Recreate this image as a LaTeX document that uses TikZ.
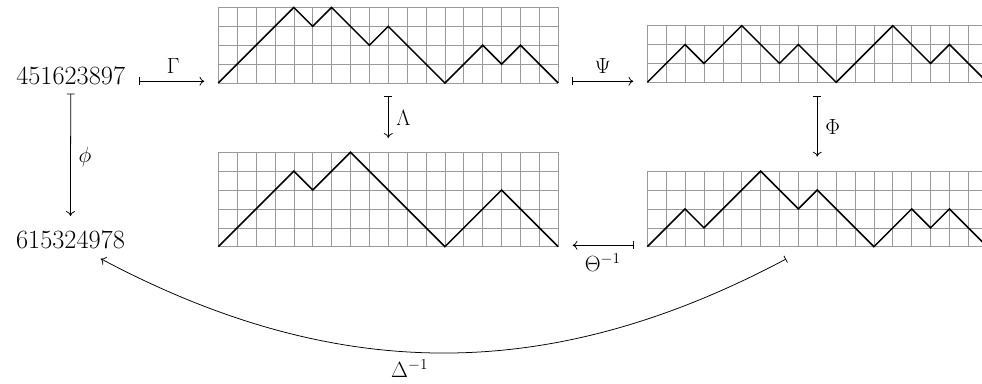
\documentclass[tikz,border=0pt]{standalone}
\usepackage{amsmath, amssymb}
\usepackage{xcolor}
\usepackage{tikz}
\usetikzlibrary{arrows.meta, calc}
\definecolor{gridgray}{HTML}{9A9A9A}
\newcommand{\cellsz}{14.87pt}
\tikzset{
  gridline/.style={
    draw=gridgray,
    line width=0.5pt
  },
  dyck/.style={
    draw=black,
    line width=1.2pt
  },
  gridbox/.style={
    inner sep=0pt, outer sep=0pt,
    minimum width={18*\cellsz}
  },
  num/.style={
    font=\huge,
    inner sep=2pt
  },
  maps/.style={
    {Bar[width=6pt]}-{Computer Modern Rightarrow[length=3.8pt, width=7pt]},
    line width=0.6pt
  },
  lbl/.style={
    font=\LARGE,
    inner sep=3pt
  }
}

\begin{document}
\begin{tikzpicture}[x=0.7874pt, y=-0.7874pt]
  \useasboundingbox (0,0) rectangle (982,383);

  % Permutations
  \node[num, anchor=base] (n1) at (70.7, 84) {451623897};
  \node[num, anchor=base] (n2) at (70.5, 248) {615324978};

  % Path A (top left)
  \begin{scope}[shift={(218.3,83)}, x=\cellsz, y=\cellsz]
    \draw[gridline, step=1] (0,0) grid (18,4);
    \draw[dyck] (0,0) \foreach \s in {1,1,1,1,-1,1,-1,-1,1,-1,-1,-1,1,1,-1,1,-1,-1} { -- ++(1,\s) };
    \node[gridbox, minimum height={4*\cellsz}, anchor=south west] (dA) at (0,0) {};
  \end{scope}

  % Path B (top right)
  \begin{scope}[shift={(647.3,82.3)}, x=\cellsz, y=\cellsz]
    \draw[gridline, step=1] (0,0) grid (18,3);
    \draw[dyck] (0,0) \foreach \s in {1,1,-1,1,1,-1,-1,1,-1,-1,1,1,1,-1,-1,1,-1,-1} { -- ++(1,\s) };
    \node[gridbox, minimum height={3*\cellsz}, anchor=south west] (dB) at (0,0) {};
  \end{scope}

  % Path C (bottom left)
  \begin{scope}[shift={(218.3,246.7)}, x=\cellsz, y=\cellsz]
    \draw[gridline, step=1] (0,0) grid (18,5);
    \draw[dyck] (0,0) \foreach \s in {1,1,1,1,-1,1,1,-1,-1,-1,-1,-1,1,1,1,-1,-1,-1} { -- ++(1,\s) };
    \node[gridbox, minimum height={5*\cellsz}, anchor=south west] (dC) at (0,0) {};
  \end{scope}

  % Path D (bottom right)
  \begin{scope}[shift={(647.3,246.7)}, x=\cellsz, y=\cellsz]
    \draw[gridline, step=1] (0,0) grid (18,4);
    \draw[dyck] (0,0) \foreach \s in {1,1,-1,1,1,1,-1,-1,1,-1,-1,-1,1,1,-1,1,-1,-1} { -- ++(1,\s) };
    \node[gridbox, minimum height={4*\cellsz}, anchor=south west] (dD) at (0,0) {};
  \end{scope}

  % Maps
  \draw[maps, shorten <=8.5pt, shorten >=11pt] (n1.mid east) -- (n1.mid east -| dA.west)
    node[lbl, midway, above=3pt] {$\Gamma$};
  \draw[maps, shorten <=11pt, shorten >=11pt] (dA.east |- n1.mid) -- (dB.west |- n1.mid)
    node[lbl, midway, above=3pt] {$\Psi$};
  \draw[maps, shorten <=10pt, shorten >=11.3pt] (dA.south) -- (dC.north)
    node[lbl, midway, right=3pt] {$\Lambda$};
  \draw[maps, shorten <=10.5pt, shorten >=11.5pt] (dB.south) -- (dD.north)
    node[lbl, midway, right=3pt] {$\Phi$};
  \draw[maps, shorten <=5pt, shorten >=9pt] (n1.south) -- (n2.north)
    node[lbl, midway, right=3pt] {$\phi$};
  \draw[maps, shorten <=10.5pt, shorten >=11.3pt] (dD.west |- n2.mid) -- (dC.east |- n2.mid)
    node[lbl, midway, below=3pt] {$\Theta^{-1}$};
  \draw[maps] ([xshift=-24.6pt, yshift=-9.7pt]dD.south) to[out=-152, in=-28]
    node[lbl, pos=0.55, below=3pt] {$\Delta^{-1}$} ([xshift=23.8pt, yshift=-5.9pt]n2.south);
\end{tikzpicture}
\end{document}
